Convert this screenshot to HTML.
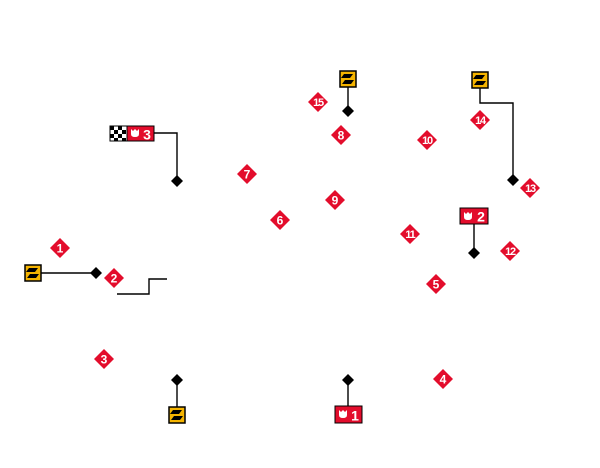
<!DOCTYPE html>
<html><head><meta charset="utf-8"><style>
html,body{margin:0;padding:0;background:#fff;width:600px;height:468px;overflow:hidden}
svg{display:block}
text{font-family:"Liberation Sans",sans-serif;font-weight:bold;fill:#fff}
</style></head><body>
<svg width="600" height="468" viewBox="0 0 600 468" xmlns="http://www.w3.org/2000/svg">
<defs>
<g id="rd"><polygon points="0,-10 10,0 0,10 -10,0" fill="#e30d2c"/></g>
<g id="bd"><polygon points="0,-6 6,0 0,6 -6,0" fill="#000"/></g>
<g id="yb"><rect x="-8" y="-8" width="16" height="16" fill="#f5b400" stroke="#000" stroke-width="1.5"/>
<polygon points="-4,-5 5,-5 2,-1 -7,-1" fill="#000"/><polygon points="-3,1 6,1 3,5 -6,5" fill="#000"/></g>
<g id="cup"><path d="M-4,-4 L-2,-2 L0,-4 L2,-2 L4,-4 L4,1 Q4,4 0,4 Q-4,4 -4,1 Z" fill="#fff"/></g>
</defs>
<g stroke="#000" stroke-width="1.4" fill="none">
<path d="M41,273 H96"/>
<path d="M348,87 V111"/>
<path d="M480,88 V103 H513 V181"/>
<path d="M154,133 H177 V181"/>
<path d="M474,224 V253"/>
<path d="M348,380 V406"/>
<path d="M177,380 V407"/>
<path d="M117,294 H149 V279 H167"/>
</g>
<use href="#bd" x="96" y="273"/><use href="#bd" x="177" y="181"/><use href="#bd" x="348" y="111"/>
<use href="#bd" x="513" y="180"/><use href="#bd" x="474" y="253"/><use href="#bd" x="177" y="380"/><use href="#bd" x="348" y="380"/>
<use href="#yb" x="33" y="273"/><use href="#yb" x="348" y="79"/><use href="#yb" x="480" y="80"/><use href="#yb" x="177" y="415"/>
<rect x="110" y="126" width="17" height="15" fill="#fff" stroke="#000" stroke-width="1"/>
<g fill="#000"><rect x="110" y="126" width="4" height="4"/><rect x="118" y="126" width="4" height="4"/><rect x="114" y="130" width="4" height="4"/><rect x="122" y="130" width="4" height="4"/><rect x="110" y="134" width="4" height="4"/><rect x="118" y="134" width="4" height="4"/><rect x="114" y="138" width="4" height="3"/><rect x="122" y="138" width="4" height="3"/></g>
<rect x="127" y="126" width="27" height="15" fill="#e30d2c" stroke="#000" stroke-width="1"/>
<use href="#cup" x="135" y="133"/><text x="147" y="139.5" font-size="14" text-anchor="middle">3</text>
<rect x="460" y="208" width="28" height="16" fill="#e30d2c" stroke="#000" stroke-width="1"/>
<use href="#cup" x="468" y="216"/><text x="481" y="221.5" font-size="14" text-anchor="middle">2</text>
<rect x="335" y="406" width="27" height="17" fill="#e30d2c" stroke="#000" stroke-width="1"/>
<use href="#cup" x="343" y="414"/><text x="355" y="420.5" font-size="14" text-anchor="middle">1</text>
<g font-size="12">
<use href="#rd" x="60" y="248"/><text x="60" y="252.5" text-anchor="middle">1</text>
<use href="#rd" x="114" y="278"/><text x="114" y="282.5" text-anchor="middle">2</text>
<use href="#rd" x="104" y="359"/><text x="104" y="363.5" text-anchor="middle">3</text>
<use href="#rd" x="443" y="379"/><text x="443" y="383.5" text-anchor="middle">4</text>
<use href="#rd" x="436" y="284"/><text x="436" y="288.5" text-anchor="middle">5</text>
<use href="#rd" x="280" y="220"/><text x="280" y="224.5" text-anchor="middle">6</text>
<use href="#rd" x="247" y="174"/><text x="247" y="178.5" text-anchor="middle">7</text>
<use href="#rd" x="341" y="135"/><text x="341" y="139.5" text-anchor="middle">8</text>
<use href="#rd" x="335" y="200"/><text x="335" y="204.5" text-anchor="middle">9</text>
</g>
<g font-size="11" letter-spacing="-1.2">
<use href="#rd" x="427" y="140"/><text x="427" y="144" text-anchor="middle">10</text>
<use href="#rd" x="410" y="234"/><text x="410" y="238" text-anchor="middle">11</text>
<use href="#rd" x="510" y="251"/><text x="510" y="255" text-anchor="middle">12</text>
<use href="#rd" x="530" y="188"/><text x="530" y="192" text-anchor="middle">13</text>
<use href="#rd" x="480" y="120"/><text x="480" y="124" text-anchor="middle">14</text>
<use href="#rd" x="318" y="102"/><text x="318" y="106" text-anchor="middle">15</text>
</g>
</svg>
</body></html>
